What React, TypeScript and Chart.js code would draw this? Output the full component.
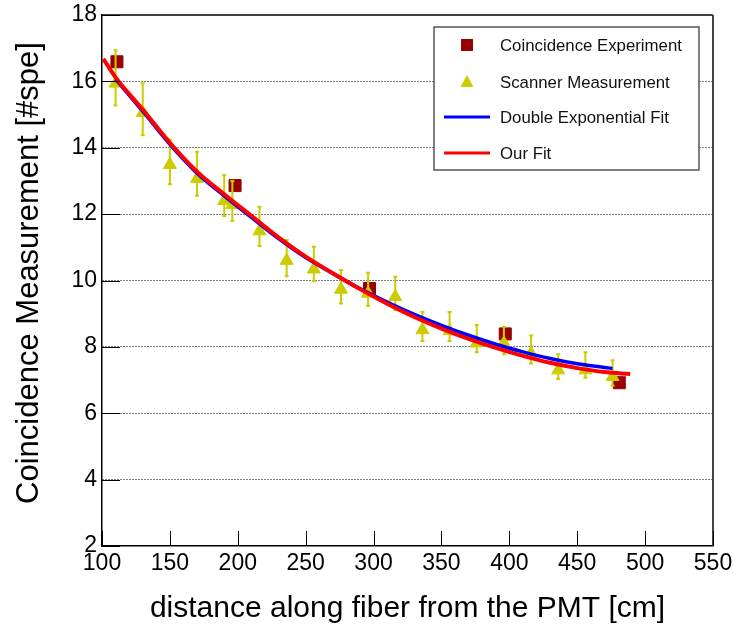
import React, { useEffect, useRef } from 'react';
import { Chart, registerables } from 'chart.js';

Chart.register(...registerables);

// ---- data ----
const coincX = [111, 198, 297, 397, 481];
const coincY = [16.59, 12.86, 9.76, 8.39, 6.92];

const scanX = [110, 130, 150, 170, 190, 196, 216, 236, 256, 276, 296, 316, 336, 356, 376, 396, 416, 436, 456, 476];
const scanY = [15.94, 15.06, 13.49, 13.07, 12.4, 12.28, 11.49, 10.6, 10.34, 9.73, 9.61, 9.51, 8.51, 8.48, 8.11, 8.11, 7.8, 7.3, 7.3, 7.1];
const scanHigh = [16.94, 15.94, 14.25, 13.88, 13.18, 13.0, 12.22, 11.22, 11.02, 10.32, 10.23, 10.11, 9.05, 9.05, 8.66, 8.61, 8.34, 7.78, 7.84, 7.6];
const scanLow = [15.27, 14.38, 12.9, 12.55, 11.94, 11.79, 11.04, 10.13, 9.98, 9.31, 9.23, 9.11, 8.18, 8.18, 7.84, 7.78, 7.5, 7.03, 7.07, 6.83];

const blueX = [110, 130, 150, 170, 190, 210, 230, 250, 270, 290, 310, 330, 350, 370, 390, 410, 430, 450, 470, 476];
const blueY = [16.07, 15.1, 14.1, 13.23, 12.55, 11.9, 11.26, 10.69, 10.21, 9.76, 9.35, 8.98, 8.65, 8.35, 8.08, 7.85, 7.65, 7.49, 7.38, 7.35];

const redX = [101, 110, 130, 150, 170, 190, 210, 230, 250, 270, 290, 310, 330, 350, 370, 390, 410, 430, 450, 470, 489];
const redY = [16.68, 16.12, 15.15, 14.15, 13.28, 12.6, 11.95, 11.3, 10.72, 10.22, 9.74, 9.3, 8.9, 8.55, 8.24, 7.97, 7.73, 7.52, 7.36, 7.24, 7.18];

const seriesLabels = ['Coincidence Experiment', 'Scanner Measurement', 'Double Exponential Fit', 'Our Fit'];
const xTitle = 'distance along fiber from the PMT [cm]';
const yTitle = 'Coincidence Measurement [#spe]';
const xMin = 100, xMax = 550, xStep = 50;
const yMin = 2, yMax = 18, yStep = 2;

const FONT = 'Liberation Sans, Arial, Helvetica, sans-serif';
const SQUARE = '#990000';
const YELLOW = '#cccc00';
const BLUE = '#0000ff';
const RED = '#ff0000';

const pts = (xs: number[], ys: number[]) => xs.map((x, i) => ({ x, y: ys[i] }));

export default function App() {
  const ref = useRef<HTMLCanvasElement>(null);

  useEffect(() => {
    const canvas = ref.current;
    if (!canvas) return;

    const errorBars = {
      id: 'errorBars',
      afterDatasetDraw(chart: any, args: any) {
        if (args.index !== 0) return;
        const { ctx, scales } = chart;
        const xs = scales.x, ys = scales.y;
        ctx.save();
        ctx.strokeStyle = YELLOW;
        ctx.lineWidth = 2;
        scanX.forEach((xv, i) => {
          const px = xs.getPixelForValue(xv);
          const top = ys.getPixelForValue(scanHigh[i]);
          const bot = ys.getPixelForValue(scanLow[i]);
          ctx.beginPath();
          ctx.moveTo(px, top);
          ctx.lineTo(px, bot);
          ctx.moveTo(px - 2, top);
          ctx.lineTo(px + 2, top);
          ctx.moveTo(px - 2, bot);
          ctx.lineTo(px + 2, bot);
          ctx.stroke();
        });
        ctx.restore();
      },
    };

    const frame = {
      id: 'frame',
      afterDraw(chart: any) {
        const { ctx, chartArea: a, scales } = chart;
        ctx.save();
        // top and right frame
        ctx.lineWidth = 1.5;
        ctx.strokeStyle = '#000';
        ctx.beginPath();
        ctx.moveTo(a.left, a.top);
        ctx.lineTo(a.right, a.top);
        ctx.stroke();
        ctx.strokeStyle = '#444';
        ctx.lineWidth = 2;
        ctx.beginPath();
        ctx.moveTo(a.right, a.top);
        ctx.lineTo(a.right, a.bottom);
        ctx.stroke();
        // inward ticks
        ctx.strokeStyle = '#000';
        ctx.lineWidth = 1;
        scales.y.ticks.forEach((t: any) => {
          const py = Math.round(scales.y.getPixelForValue(t.value)) + 0.5;
          ctx.beginPath();
          ctx.moveTo(a.left, py);
          ctx.lineTo(a.left + 18, py);
          ctx.stroke();
        });
        scales.x.ticks.forEach((t: any) => {
          const px = Math.round(scales.x.getPixelForValue(t.value)) + 0.5;
          ctx.beginPath();
          ctx.moveTo(px, a.bottom);
          ctx.lineTo(px, a.bottom - 15);
          ctx.stroke();
        });
        // y axis title
        ctx.save();
        ctx.translate(29, 273);
        ctx.rotate(-Math.PI / 2);
        ctx.fillStyle = '#000';
        ctx.font = `31px ${FONT}`;
        ctx.textAlign = 'center';
        ctx.textBaseline = 'middle';
        ctx.fillText(yTitle, 0, 0);
        ctx.restore();
        // legend
        const lx0 = 434, ly0 = 27, lx1 = 699, ly1 = 170;
        ctx.fillStyle = '#fff';
        ctx.fillRect(lx0, ly0, lx1 - lx0, ly1 - ly0);
        ctx.strokeStyle = '#555';
        ctx.lineWidth = 1.5;
        ctx.strokeRect(lx0, ly0, lx1 - lx0, ly1 - ly0);
        const rows = [45, 82, 117, 153];
        const mx = 467;
        ctx.fillStyle = SQUARE;
        ctx.fillRect(mx - 6, rows[0] - 6, 12, 12);
        ctx.fillStyle = YELLOW;
        ctx.beginPath();
        ctx.moveTo(mx, rows[1] - 7);
        ctx.lineTo(mx + 6.5, rows[1] + 5);
        ctx.lineTo(mx - 6.5, rows[1] + 5);
        ctx.closePath();
        ctx.fill();
        ctx.lineWidth = 3;
        ctx.strokeStyle = BLUE;
        ctx.beginPath();
        ctx.moveTo(444, rows[2]);
        ctx.lineTo(490, rows[2]);
        ctx.stroke();
        ctx.strokeStyle = RED;
        ctx.beginPath();
        ctx.moveTo(444, rows[3]);
        ctx.lineTo(490, rows[3]);
        ctx.stroke();
        ctx.fillStyle = '#111';
        ctx.font = `16.8px ${FONT}`;
        ctx.textBaseline = 'middle';
        ctx.textAlign = 'left';
        seriesLabels.forEach((s, i) => ctx.fillText(s, 500, rows[i] + 1));
        ctx.restore();
      },
    };

    const chart = new Chart(canvas, {
      type: 'scatter',
      data: {
        datasets: [
          {
            label: seriesLabels[0],
            data: pts(coincX, coincY),
            pointStyle: 'rect',
            pointRadius: 8.5,
            backgroundColor: SQUARE,
            borderColor: SQUARE,
            borderWidth: 1,
            showLine: false,
            order: 4,
          },
          {
            label: seriesLabels[1],
            data: pts(scanX, scanY),
            pointStyle: 'triangle',
            pointRadius: 7.5,
            backgroundColor: YELLOW,
            borderColor: YELLOW,
            borderWidth: 1,
            showLine: false,
            order: 3,
          },
          {
            label: seriesLabels[2],
            data: pts(blueX, blueY),
            showLine: true,
            pointRadius: 0,
            borderColor: BLUE,
            borderWidth: 3.5,
            cubicInterpolationMode: 'monotone',
            fill: false,
            order: 2,
          },
          {
            label: seriesLabels[3],
            data: pts(redX, redY),
            showLine: true,
            pointRadius: 0,
            borderColor: RED,
            borderWidth: 4,
            cubicInterpolationMode: 'monotone',
            fill: false,
            order: 1,
          },
        ],
      } as any,
      options: {
        responsive: false,
        animation: false,
        events: [],
        layout: { padding: { left: 0, top: 15, right: 21, bottom: 0 } },
        plugins: { legend: { display: false }, tooltip: { enabled: false } },
        scales: {
          x: {
            type: 'linear',
            min: xMin,
            max: xMax,
            afterFit: (s: any) => { s.height = 82; s.paddingLeft = 0; s.paddingRight = 0; },
            ticks: { stepSize: xStep, color: '#000', font: { family: FONT, size: 23 }, padding: 4, maxRotation: 0, autoSkip: false },
            grid: { display: false, drawTicks: false },
            border: { display: true, color: '#000', width: 1.5 },
            title: { display: true, text: xTitle, color: '#000', font: { family: FONT, size: 30 }, padding: { top: 0, bottom: 1 } },
          },
          y: {
            type: 'linear',
            min: yMin,
            max: yMax,
            afterFit: (s: any) => { s.width = 102; s.paddingTop = 0; s.paddingBottom = 0; },
            ticks: { stepSize: yStep, color: '#000', font: { family: FONT, size: 23 }, padding: 5 },
            grid: {
              drawTicks: false,
              lineWidth: 1,
              color: (c: any) => (c.tick && (c.tick.value === yMin || c.tick.value === yMax) ? 'rgba(0,0,0,0)' : '#000'),
            },
            border: { display: true, color: '#000', width: 1.5, dash: [1, 2] },
            title: { display: false },
          },
        },
      } as any,
      plugins: [errorBars, frame],
    });

    return () => chart.destroy();
  }, []);

  return (
    <div style={{ position: 'absolute', left: 0, top: 0, width: 734, height: 628, background: '#fff' }}>
      <canvas ref={ref} width={734} height={628} style={{ display: 'block', width: 734, height: 628 }} />
    </div>
  );
}
